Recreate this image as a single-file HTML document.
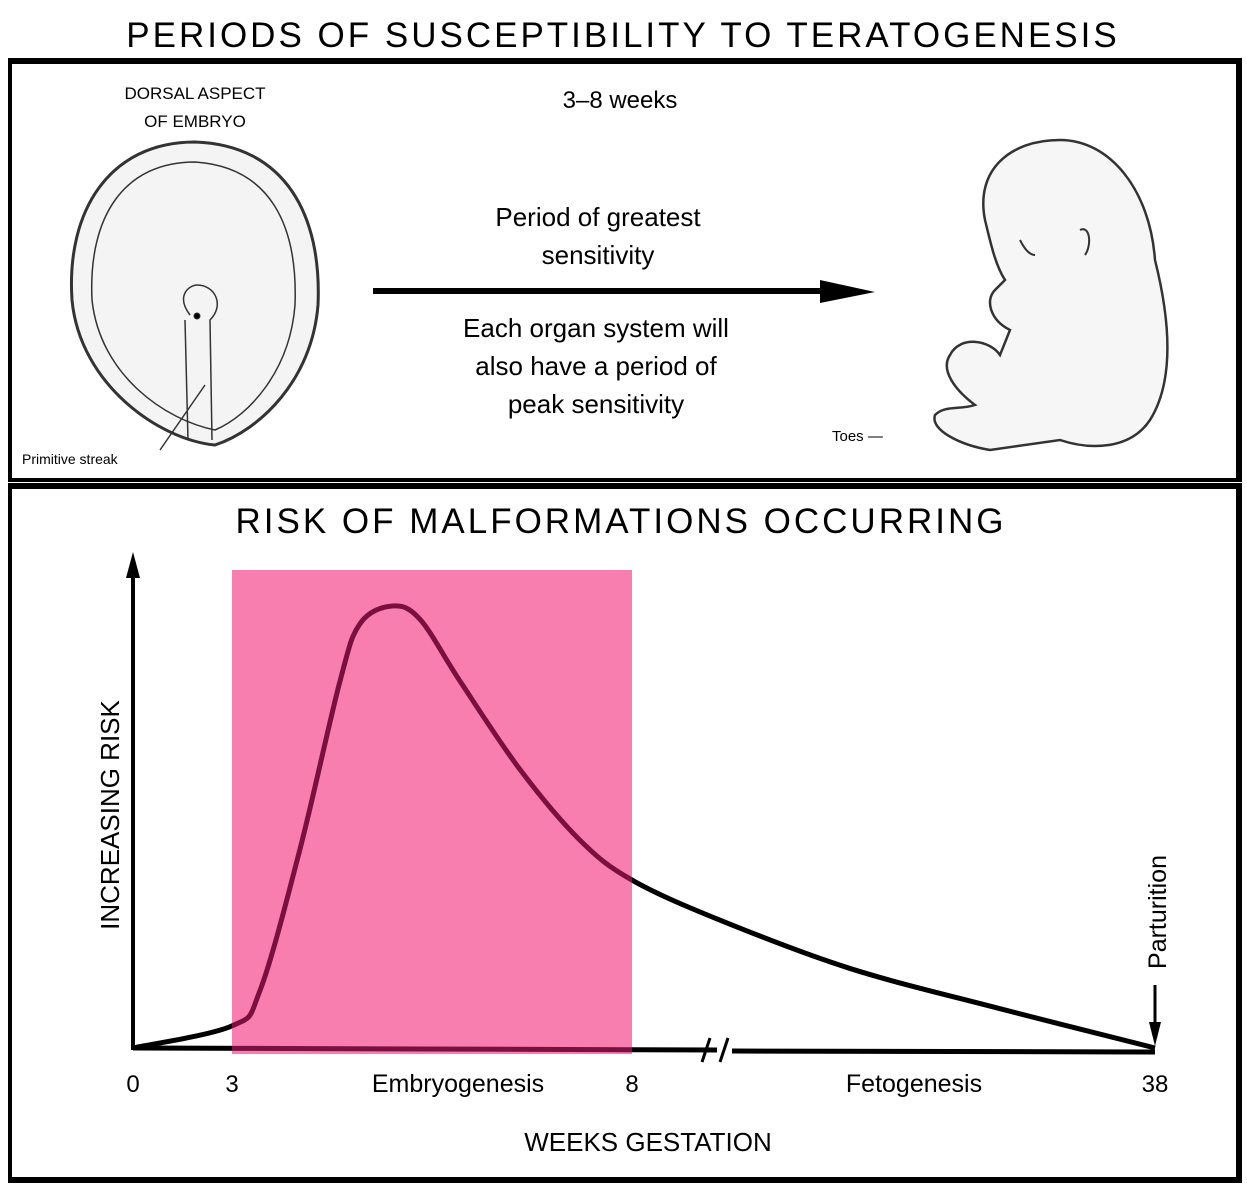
<!DOCTYPE html>
<html><head><meta charset="utf-8"><style>
html,body{margin:0;padding:0;background:#fff;}
svg{display:block;font-family:"Liberation Sans",Arial,sans-serif;}
</style></head><body>
<svg width="1247" height="1200" viewBox="0 0 1247 1200">
<defs><clipPath id="shadeClip"><rect id="clipRect" x="232" y="570" width="400" height="484"/></clipPath></defs>
<text x="623" y="47" text-anchor="middle" font-size="35" letter-spacing="3">PERIODS OF SUSCEPTIBILITY TO TERATOGENESIS</text>
<g>
<rect x="10" y="60" width="1228" height="420" fill="none" stroke="#000" stroke-width="4"/>
<line x1="8" y1="61" x2="1240" y2="61" stroke="#000" stroke-width="6"/>
<line x1="1239" y1="58" x2="1239" y2="482" stroke="#000" stroke-width="6"/>
<g fill="none" stroke="#333">
<path d="M195 142 C285 145 322 215 318 305 C312 380 260 430 215 445 C160 440 80 385 72 300 C66 210 110 142 195 142 Z" stroke-width="3" fill="#f4f4f4"/>
<path d="M195 162 C270 167 298 225 295 305 C290 370 250 415 215 430 C165 420 100 375 92 300 C88 215 125 162 195 162 Z" stroke-width="1.5"/>
<path d="M190 315 C175 295 190 285 197 285 C215 285 225 305 210 320 L212 440 M185 320 L188 440" stroke-width="1.5"/>
<circle cx="197" cy="316" r="3" fill="#000"/>
<line x1="205" y1="385" x2="160" y2="450" stroke-width="1.5"/>
</g>
<text x="195" y="99" text-anchor="middle" font-size="17">DORSAL ASPECT</text>
<text x="195" y="127" text-anchor="middle" font-size="17">OF EMBRYO</text>
<text x="22" y="464" font-size="14">Primitive streak</text>
<text x="620" y="108" text-anchor="middle" font-size="24">3–8 weeks</text>
<text x="598" y="226" text-anchor="middle" font-size="26">Period of greatest</text>
<text x="598" y="264" text-anchor="middle" font-size="26">sensitivity</text>
<g>
<line x1="373" y1="291" x2="840" y2="291" stroke="#000" stroke-width="6"/>
<polygon points="820,280 875,292 820,303" fill="#000"/>
</g>
<text x="596" y="337" text-anchor="middle" font-size="26">Each organ system will</text>
<text x="596" y="375" text-anchor="middle" font-size="26">also have a period of</text>
<text x="596" y="413" text-anchor="middle" font-size="26">peak sensitivity</text>
<g fill="#f6f6f6" stroke="#333" stroke-width="2.5">
<path d="M1060 140 C1110 140 1150 190 1155 260 C1170 320 1175 380 1150 420 C1130 450 1090 450 1060 440 L990 450 C960 445 930 430 935 415 C945 405 960 410 975 405 C955 390 940 370 950 355 C960 335 990 340 1000 355 L1010 330 C990 320 985 300 995 290 L1005 280 C995 265 990 240 985 220 C975 170 1010 140 1060 140 Z"/>
<path d="M1020 240 C1025 250 1030 255 1035 255 M1080 230 C1090 225 1092 245 1085 255" fill="none" stroke-width="2"/>
</g>
<text x="832" y="441" font-size="15">Toes —</text>
</g>
<g>
<rect x="10" y="485" width="1228" height="696" fill="none" stroke="#000" stroke-width="4"/>
<line x1="8" y1="486" x2="1240" y2="486" stroke="#000" stroke-width="6"/>
<line x1="8" y1="1180" x2="1240" y2="1180" stroke="#000" stroke-width="6"/>
<line x1="1239" y1="483" x2="1239" y2="1183" stroke="#000" stroke-width="6"/>
<text x="621" y="533" text-anchor="middle" font-size="35" letter-spacing="3">RISK OF MALFORMATIONS OCCURRING</text>
<g id="chart"></g>
</g>
</svg>
<script>
const weeks = [0, 3, 3.35, 3.85, 4.35, 4.6, 5, 5.35, 5.85, 6.6, 7.35, 8, 13, 20.5, 29, 38];
const risk  = [0, 5, 13, 45, 83, 96, 100, 97, 83, 63, 47, 38, 29, 18, 9, 0];
const tickWeeks = [0, 3, 8, 38];
const tickLabels = ["0", "3", "8", "38"];
const shadeRange = [3, 8];
const NS = "http://www.w3.org/2000/svg";
const g = document.getElementById("chart");
function xScale(w){
  if (w <= 3) return 133 + w/3*99;
  if (w <= 8) return 232 + (w-3)/5*400;
  return 632 + (w-8)/30*523;
}
function yScale(r){ return 1048 - r*4.42; }
function mk(tag, attrs){ const e=document.createElementNS(NS,tag); for(const k in attrs) e.setAttribute(k,attrs[k]); g.appendChild(e); return e; }
let pts = weeks.map((w,i)=>[xScale(w), yScale(risk[i])]);
let d = "M"+pts[0][0]+" "+pts[0][1];
for(let i=0;i<pts.length-1;i++){
  const p0=pts[Math.max(i-1,0)], p1=pts[i], p2=pts[i+1], p3=pts[Math.min(i+2,pts.length-1)];
  const c1=[p1[0]+(p2[0]-p0[0])/6, p1[1]+(p2[1]-p0[1])/6];
  const c2=[p2[0]-(p3[0]-p1[0])/6, p2[1]-(p3[1]-p1[1])/6];
  d += ` C${c1[0]} ${c1[1]} ${c2[0]} ${c2[1]} ${p2[0]} ${p2[1]}`;
}
const sx0 = xScale(shadeRange[0]), sx1 = xScale(shadeRange[1]);
const cr = document.getElementById('clipRect');
cr.setAttribute('x', sx0); cr.setAttribute('width', sx1 - sx0);
const axPath = `M133 1048 L${xScale(8)+85} 1050 M${xScale(8)+100} 1051 L1155 1052`;
const xa = mk("path",{d:axPath,stroke:"#000","stroke-width":5,fill:"none"});


const br = mk("path",{d:`M${xScale(8)+70} 1062 L${xScale(8)+78} 1038 M${xScale(8)+88} 1062 L${xScale(8)+96} 1038`,stroke:"#000","stroke-width":3,fill:"none"});


const ya = mk("line",{x1:133,y1:1050,x2:133,y2:570,stroke:"#000","stroke-width":4});


const yh = mk("polygon",{points:"126,578 133,552 140,578",fill:"#000"});


const curve = mk("path",{d:d,stroke:"#000","stroke-width":5,fill:"none"});


const shade = mk("rect",{x:sx0,y:570,width:sx1-sx0,height:484,fill:"#f97eb0"});


const curveIn = mk("path",{d:d,stroke:"#7a1040","stroke-width":5,fill:"none","clip-path":"url(#shadeClip)"});


const axIn = mk("path",{d:axPath,stroke:"#7a1040","stroke-width":5,fill:"none","clip-path":"url(#shadeClip)"});


tickWeeks.forEach((w,i)=>{
  const t = mk("text",{x:xScale(w),y:1092,"text-anchor":"middle","font-size":24});
  t.textContent = tickLabels[i];
  
  
});
const e1 = mk("text",{x:458,y:1092,"text-anchor":"middle","font-size":25}); e1.textContent="Embryogenesis";


const e2 = mk("text",{x:914,y:1092,"text-anchor":"middle","font-size":25}); e2.textContent="Fetogenesis";


const xt = mk("text",{x:648,y:1151,"text-anchor":"middle","font-size":26}); xt.textContent="WEEKS GESTATION";


const yt = mk("text",{x:0,y:0,"text-anchor":"middle","font-size":26,transform:"translate(119 815) rotate(-90)"}); yt.textContent="INCREASING RISK";


const pt = mk("text",{x:0,y:0,"text-anchor":"middle","font-size":25,transform:"translate(1166 912) rotate(-90)"}); pt.textContent="Parturition";


const pa = mk("path",{d:`M${xScale(38)} 985 L${xScale(38)} 1030`,stroke:"#000","stroke-width":3});


const ph = mk("polygon",{points:`${xScale(38)-6},1022 ${xScale(38)},1046 ${xScale(38)+6},1022`,fill:"#000"});


</script>
</body></html>
